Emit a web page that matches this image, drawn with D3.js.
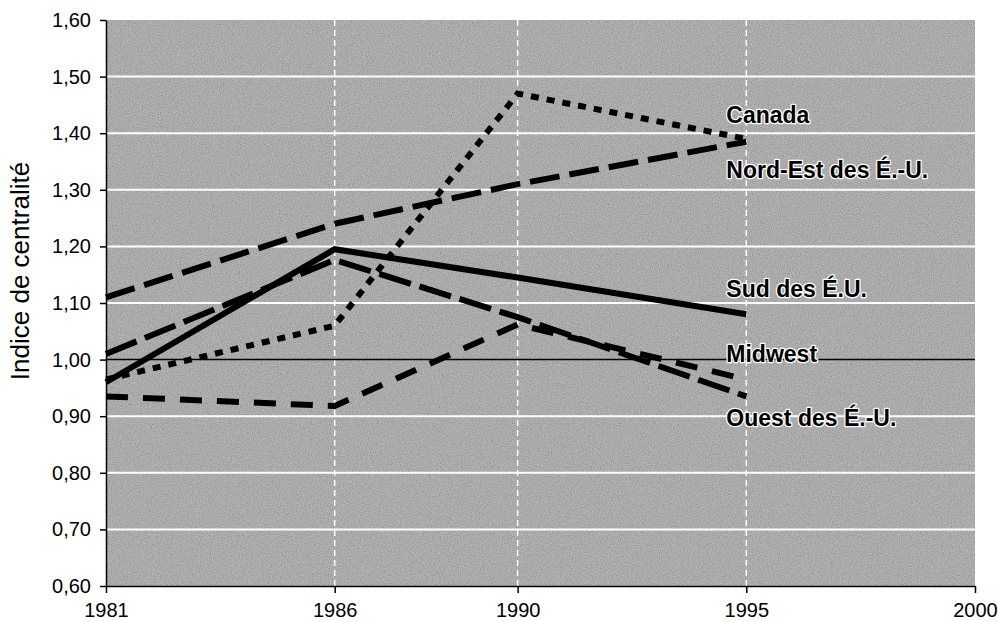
<!DOCTYPE html>
<html>
<head>
<meta charset="utf-8">
<script src="https://cdn.jsdelivr.net/npm/d3@7"></script>
<style>
  body { margin: 0; background: #fff; }
  #chart text { font-family: "Liberation Sans", Arial, sans-serif; fill: #000; }
  .tick text { font-size: 20px; }
  .tick line, .domain { stroke: #000; stroke-width: 1.5px; }
  .series-label { font-size: 23px; font-weight: bold; paint-order: stroke; stroke: #fff; stroke-width: 2.5px; stroke-linejoin: round; }
</style>
</head>
<body>
<div id="chart"></div>
<script>
// values
const years = [1981, 1986, 1990, 1995];
const regions = ["Canada", "Nord-Est des É.-U.", "Sud des É.U.", "Midwest", "Ouest des É.-U."];
const canada = [0.965, 1.06, 1.47, 1.39];
const nordEst = [1.11, 1.24, 1.31, 1.385];
const sud = [0.96, 1.195, 1.145, 1.08];
const midwest = [0.935, 0.918, 1.062, 0.965];
const ouest = [1.01, 1.176, 1.075, 0.935];
// where each region name sits on the value axis
const labelLevels = [1.432, 1.335, 1.125, 1.01, 0.898];
const yTicks = [0.6, 0.7, 0.8, 0.9, 1.0, 1.1, 1.2, 1.3, 1.4, 1.5, 1.6];
const xTicks = [1981, 1986, 1990, 1995, 2000];

class CentralityChart {
  constructor() {
    this.margin = { top: 20, right: 23, bottom: 35, left: 106 };
    this.width = 998 - this.margin.left - this.margin.right;
    this.height = 621 - this.margin.top - this.margin.bottom;

    this.svg = d3.select("#chart").append("svg")
      .attr("width", 998)
      .attr("height", 621);
    this.g = this.svg.append("g")
      .attr("transform", `translate(${this.margin.left}, ${this.margin.top})`);

    this.xScale = d3.scaleLinear().domain([1981, 2000]).range([0, this.width]);
    this.yScale = d3.scaleLinear().domain([0.6, 1.6]).range([this.height, 0]);

    this.series = [canada, nordEst, sud, midwest, ouest];
    // line look per region: dotted, long dash, solid, medium dash, long dash
    this.dashes = ["8,8", "30,10", null, "22,15", "33,9"];
  }

  drawBackground() {
    let defs = this.svg.append("defs");
    let f = defs.append("filter").attr("id", "grain")
      .attr("x", 0).attr("y", 0).attr("width", 1).attr("height", 1);
    f.append("feTurbulence")
      .attr("type", "fractalNoise")
      .attr("baseFrequency", 0.9)
      .attr("numOctaves", 2)
      .attr("seed", 4);
    f.append("feColorMatrix")
      .attr("type", "matrix")
      .attr("values", "1 0 0 0 0  1 0 0 0 0  1 0 0 0 0  0 0 0 0 1");

    this.g.append("rect")
      .attr("width", this.width)
      .attr("height", this.height)
      .attr("fill", "#a2a2a2");
    this.g.append("rect")
      .attr("width", this.width)
      .attr("height", this.height)
      .attr("filter", "url(#grain)")
      .attr("opacity", 0.35);
  }

  drawGrid() {
    // white horizontal lines
    this.g.selectAll(".hgrid")
      .data(yTicks.filter(d => d > 0.65 && d < 1.55 && Math.abs(d - 1) > 0.01))
      .join("line")
      .attr("class", "hgrid")
      .attr("x1", 0).attr("x2", this.width)
      .attr("y1", d => this.yScale(d)).attr("y2", d => this.yScale(d))
      .attr("stroke", "#fff")
      .attr("stroke-width", 2);

    // dashed white verticals at data years
    this.g.selectAll(".vgrid")
      .data(years.slice(1))
      .join("line")
      .attr("class", "vgrid")
      .attr("x1", d => this.xScale(d)).attr("x2", d => this.xScale(d))
      .attr("y1", 0).attr("y2", this.height)
      .attr("stroke", "#fff")
      .attr("stroke-width", 1.5)
      .attr("stroke-dasharray", "6,4");

    // reference line at 1,00
    this.g.append("line")
      .attr("x1", 0).attr("x2", this.width)
      .attr("y1", this.yScale(1)).attr("y2", this.yScale(1))
      .attr("stroke", "#000")
      .attr("stroke-width", 1.5);
  }

  drawAxes() {
    this.g.append("g")
      .attr("transform", `translate(0, ${this.height})`)
      .call(d3.axisBottom(this.xScale)
        .tickValues(xTicks)
        .tickFormat(d3.format("d"))
        .tickSize(7)
        .tickSizeOuter(0)
        .tickPadding(10));

    this.g.append("g")
      .call(d3.axisLeft(this.yScale)
        .tickValues(yTicks)
        .tickFormat(d => d.toFixed(2).replace(".", ","))
        .tickSize(6)
        .tickSizeOuter(0)
        .tickPadding(9));

    this.svg.selectAll(".tick text").attr("font-size", 20).attr("font-family", null);

    // y axis title
    this.svg.append("text")
      .text("Indice de centralité")
      .attr("font-size", 26)
      .style("text-anchor", "middle")
      .attr("transform", `translate(29, 271)rotate(-90)`);
  }

  drawLines() {
    let lineGenerator = d3.line()
      .x((d, i) => this.xScale(years[i]))
      .y(d => this.yScale(d));

    this.series.forEach((vals, i) => {
      this.g.append("path")
        .datum(vals)
        .attr("d", lineGenerator)
        .attr("fill", "none")
        .attr("stroke", "#000")
        .attr("stroke-width", 6)
        .attr("stroke-dasharray", this.dashes[i]);
    });

    // region names beside the 1995 ends
    this.g.selectAll(".series-label")
      .data(regions)
      .join("text")
      .attr("class", "series-label")
      .attr("x", this.xScale(1995) - 20)
      .attr("y", (d, i) => this.yScale(labelLevels[i]))
      .attr("dy", "0.36em")
      .text(d => d);
  }
}

let chart = new CentralityChart();
chart.drawBackground();
chart.drawGrid();
chart.drawLines();
chart.drawAxes();
</script>
</body>
</html>
